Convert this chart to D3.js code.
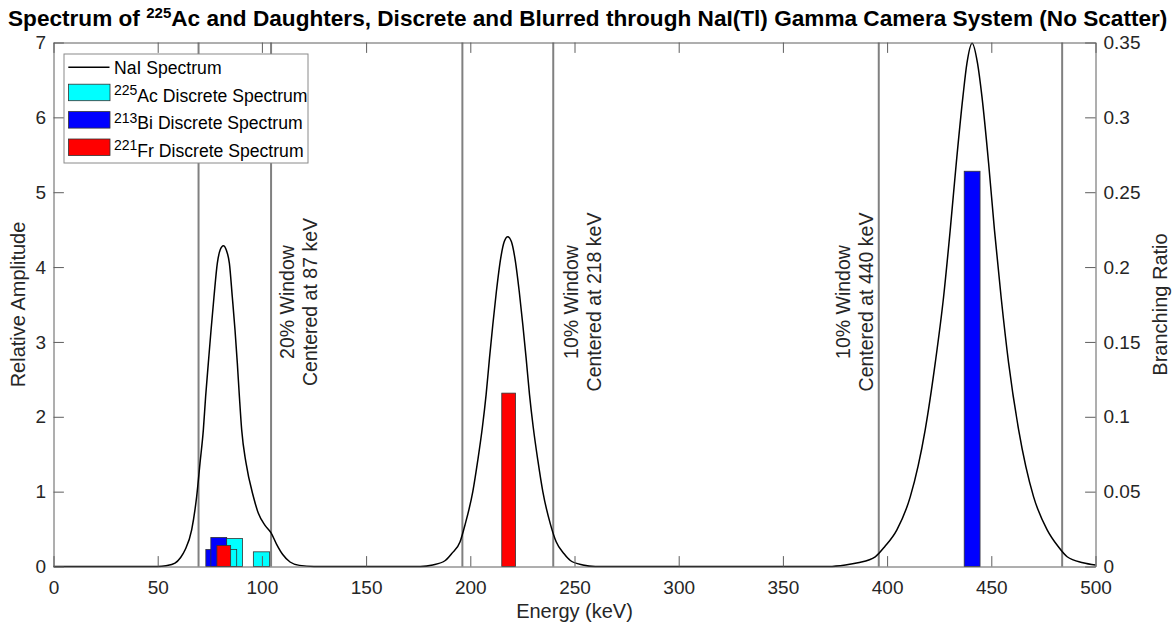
<!DOCTYPE html>
<html>
<head>
<meta charset="utf-8">
<script src="https://cdn.jsdelivr.net/npm/d3@7"></script>
<style>
  body { margin: 0; background: #fff; }
  svg text { font-family: "Liberation Sans", Arial, Helvetica, sans-serif; }
</style>
</head>
<body>
<div id="app"></div>
<script>
// NaI blurred spectrum (keV / relative amplitude)
const nrgEnergy = [0, 50, 54, 58.3, 61, 63.1, 66.3, 68.7, 70.3, 71.9, 73.0, 74.3, 75.6, 77.0, 78.6, 80.0,
  81.5, 83.0, 84.4, 85.8, 87.1, 88.2, 89.2, 90.3, 92.4, 95.9, 98.3, 101.5, 104.4, 107, 110, 113.5, 118, 125,
  176, 182, 188, 191, 195.1, 197.5, 201.2, 203.6, 205.8, 207.6, 209.2, 210.8, 212.5, 214.6, 216.3, 218,
  219.7, 221.4, 223.5, 225.2, 226.8, 228.4, 230.2, 232.4, 234.8, 238.5, 241.2, 245, 248, 254, 260,
  372, 380, 386, 394.3, 399, 404.7, 411.1, 418.3, 423.1, 427.1, 430.3, 433.2, 436.4, 438.3, 440.8,
  443.4, 445.5, 448.7, 451.5, 454.7, 458.3, 463.1, 470.3, 476.8, 482, 486.4, 494, 500];
const nrgAmp = [0, 0, 0.01, 0.045, 0.12, 0.22, 0.49, 0.935, 1.38, 1.825, 2.27, 2.72, 3.16, 3.6, 4.05, 4.23,
  4.285, 4.22, 4.05, 3.6, 3.16, 2.72, 2.27, 1.825, 1.38, 0.935, 0.71, 0.55, 0.45, 0.3, 0.16, 0.06, 0.015, 0,
  0, 0.02, 0.08, 0.17, 0.33, 0.56, 1.0, 1.42, 1.86, 2.30, 2.78, 3.23, 3.67, 4.12, 4.34, 4.406,
  4.34, 4.12, 3.67, 3.23, 2.78, 2.30, 1.86, 1.42, 1.0, 0.56, 0.33, 0.17, 0.08, 0.02, 0,
  0, 0.02, 0.05, 0.13, 0.27, 0.49, 0.93, 1.83, 2.72, 3.6, 4.5, 5.39, 6.28, 6.72, 6.99,
  6.72, 6.28, 5.39, 4.5, 3.6, 2.72, 1.83, 0.93, 0.49, 0.27, 0.13, 0.05, 0.02];

// discrete lines (keV / branching ratio), in drawing order
const acEnergy = [86.8, 84.0, 99.8];
const acRatio = [0.0187, 0.0114, 0.0098];
const biEnergy = [76.9, 79.3, 440.8];
const biRatio = [0.0114, 0.0194, 0.264];
const frEnergy = [81.7, 218.4];
const frRatio = [0.014, 0.1158];

// energy windows
const winCenter = [87, 218, 440];
const winFrac = [0.2, 0.1, 0.1];
const winText = [["20% Window", "Centered at 87 keV"],
                 ["10% Window", "Centered at 218 keV"],
                 ["10% Window", "Centered at 440 keV"]];

// ticks
const xTicks = [0, 50, 100, 150, 200, 250, 300, 350, 400, 450, 500];
const leftTicks = [0, 1, 2, 3, 4, 5, 6, 7];
const rightTicks = [0, 0.05, 0.1, 0.15, 0.2, 0.25, 0.3, 0.35];
const rightLabels = ["0", "0.05", "0.1", "0.15", "0.2", "0.25", "0.3", "0.35"];

const w = 1174, h = 629;
const pL = 53.5, pR = 1095.5, pT = 42.5, pB = 566.5;
const tick = 10.4;
const axisCol = "#5e5e5e", textCol = "#262626";

const x = d3.scaleLinear().domain([0, 500]).range([pL, pR]);
const yL = d3.scaleLinear().domain([0, 7]).range([pB, pT]);
const yR = d3.scaleLinear().domain([0, 0.35]).range([pB, pT]);

const svg = d3.select("#app").append("svg").attr("width", w).attr("height", h);

//window lines
const edges = [];
winCenter.forEach((c, i) => { edges.push(c * (1 - winFrac[i]), c * (1 + winFrac[i])); });
svg.append("g").selectAll("line").data(edges).join("line")
  .attr("x1", d => x(d)).attr("x2", d => x(d))
  .attr("y1", pT).attr("y2", pB)
  .attr("stroke", "#808080").attr("stroke-width", 2);

//curve
const pts = nrgEnergy.map((e, i) => [e, nrgAmp[i]]);
svg.append("path").datum(pts)
  .attr("fill", "none").attr("stroke", "#000").attr("stroke-width", 1.5)
  .attr("d", d3.line().x(d => x(d[0])).y(d => yL(d[1])).curve(d3.curveMonotoneX));

//bars
const series = [
  { e: acEnergy, v: acRatio, width: 7.8, color: "#00ffff" },
  { e: biEnergy, v: biRatio, width: 7.6, color: "#0000ff" },
  { e: frEnergy, v: frRatio, width: 6.6, color: "#ff0000" }
];
series.forEach(s => {
  svg.append("g").selectAll("rect").data(s.e.map((e, i) => [e, s.v[i]])).join("rect")
    .attr("x", d => x(d[0] - s.width / 2))
    .attr("width", d => x(d[0] + s.width / 2) - x(d[0] - s.width / 2))
    .attr("y", d => yR(d[1]))
    .attr("height", d => yR(0) - yR(d[1]))
    .attr("fill", s.color).attr("stroke", "#333").attr("stroke-width", 0.8);
});

//annotations
const annoEnergy = [117.7, 253.7, 384.5];
winText.forEach((lines, i) => {
  lines.forEach((t, j) => {
    const cx = x(annoEnergy[i]) + (j === 0 ? -11.5 : 11.5);
    svg.append("text")
      .attr("transform", `translate(${cx},302) rotate(-90)`)
      .attr("text-anchor", "middle").attr("dy", "0.35em")
      .attr("font-size", 19.5).attr("fill", textCol)
      .text(t);
  });
});

//axes
function styleAxis(g) {
  g.attr("font-size", 19).attr("font-family", null);
  g.select(".domain").attr("stroke", axisCol);
  g.selectAll(".tick line").attr("stroke", axisCol);
  g.selectAll(".tick text").attr("fill", textCol);
}
svg.append("g").attr("transform", `translate(0,${pB})`)
  .call(d3.axisBottom(x).tickValues(xTicks).tickSizeInner(-tick).tickSizeOuter(0).tickPadding(14.5))
  .call(styleAxis);
svg.append("g").attr("transform", `translate(0,${pT})`)
  .call(d3.axisTop(x).tickValues(xTicks).tickSizeInner(-tick).tickSizeOuter(0).tickFormat(""))
  .call(styleAxis);
svg.append("g").attr("transform", `translate(${pL},0)`)
  .call(d3.axisLeft(yL).tickValues(leftTicks).tickSizeInner(-tick).tickSizeOuter(0).tickPadding(7.5)
    .tickFormat(d3.format("d")))
  .call(styleAxis);
svg.append("g").attr("transform", `translate(${pR},0)`)
  .call(d3.axisRight(yR).tickValues(rightTicks).tickSizeInner(-tick).tickSizeOuter(0).tickPadding(8)
    .tickFormat((d, i) => rightLabels[i]))
  .call(styleAxis);

//axis labels
svg.append("text").attr("x", (pL + pR) / 2).attr("y", 618)
  .attr("text-anchor", "middle").attr("font-size", 20).attr("fill", textCol).text("Energy (keV)");
svg.append("text").attr("transform", `translate(18,${(pT + pB) / 2}) rotate(-90)`)
  .attr("text-anchor", "middle").attr("dy", "0.35em").attr("font-size", 20).attr("fill", textCol)
  .text("Relative Amplitude");
svg.append("text").attr("transform", `translate(1160,${(pT + pB) / 2}) rotate(-90)`)
  .attr("text-anchor", "middle").attr("dy", "0.35em").attr("font-size", 20).attr("fill", textCol)
  .text("Branching Ratio");

//title
const title = svg.append("text").attr("font-size", 22.5).attr("font-weight", "bold").attr("fill", "#000");
title.append("tspan").text("Spectrum of ");
title.append("tspan").attr("font-size", 15).attr("dy", -8).text("225");
title.append("tspan").attr("dy", 8).text("Ac and Daughters, Discrete and Blurred through NaI(Tl) Gamma Camera System (No Scatter)");
const tw = title.node().getComputedTextLength();
title.attr("transform", `translate(8,26) scale(${1160 / tw},1)`);

//legend
const legend = svg.append("g");
legend.append("rect").attr("x", 64).attr("y", 54).attr("width", 244).attr("height", 109)
  .attr("fill", "#fff").attr("stroke", "#8a8a8a").attr("stroke-width", 1);
const legItems = [
  { sup: "", label: "NaI Spectrum", color: null },
  { sup: "225", label: "Ac Discrete Spectrum", color: "#00ffff" },
  { sup: "213", label: "Bi Discrete Spectrum", color: "#0000ff" },
  { sup: "221", label: "Fr Discrete Spectrum", color: "#ff0000" }
];
legItems.forEach((it, i) => {
  const base = 74.3 + 27.4 * i;
  if (it.color === null) {
    legend.append("line").attr("x1", 68.3).attr("x2", 109.5).attr("y1", base - 7).attr("y2", base - 7)
      .attr("stroke", "#000").attr("stroke-width", 1.5);
  } else {
    legend.append("rect").attr("x", 68.5).attr("y", base - 17.5).attr("width", 41.5).attr("height", 16.5)
      .attr("fill", it.color).attr("stroke", "#333").attr("stroke-width", 0.8);
  }
  const t = legend.append("text").attr("x", 114).attr("y", base).attr("font-size", 17.6).attr("fill", "#000");
  if (it.sup) {
    t.append("tspan").attr("font-size", 14).attr("dy", -6.5).text(it.sup);
    t.append("tspan").attr("dy", 6.5).text(it.label);
  } else {
    t.text(it.label);
  }
});
</script>
</body>
</html>
